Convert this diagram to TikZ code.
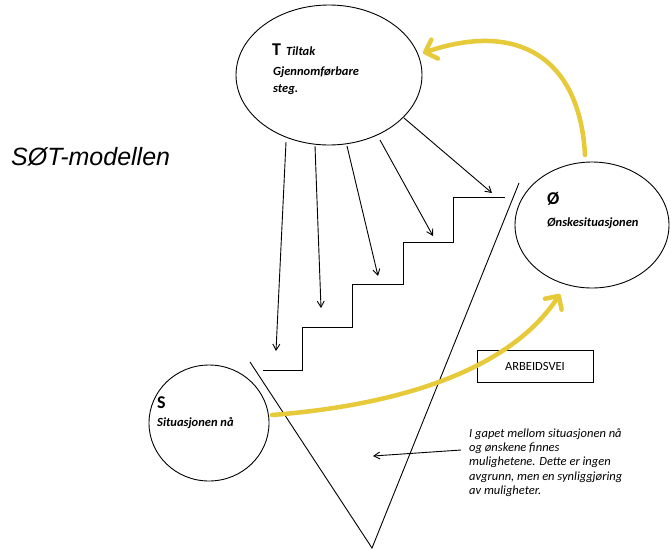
\documentclass[tikz,border=0pt]{standalone}
\usepackage{fontspec}
\setmainfont{Carlito}
\newfontfamily\arialfont{Liberation Sans}
\usetikzlibrary{arrows.meta}
\definecolor{pathyellow}{RGB}{230,202,58}
\begin{document}
\begin{tikzpicture}[x=1pt,y=-1pt,
  thinline/.style={draw,line width=0.9pt},
  steparrow/.style={draw,line width=0.9pt,-{Straight Barb[length=6pt,width=7pt]}},
  yellowarrow/.style={draw=pathyellow,line width=4.5pt,line cap=round,
    -{Straight Barb[length=10pt,width=20pt,line width=4.5pt,round]}},
  label/.style={font=\bfseries\itshape\fontsize{12.5}{14}\selectfont,anchor=base west,inner sep=0pt},
  letter/.style={font=\bfseries\fontsize{18}{20}\selectfont,anchor=base west,inner sep=0pt}
]
\useasboundingbox (0,0) rectangle (671,549);

% Title
\node[anchor=base west,inner sep=0pt,font=\arialfont\itshape\fontsize{25}{28}\selectfont] (title) at (11,165) {SØT-modellen};

% Three ellipses
\draw[thinline] (329,75) ellipse [x radius=93,y radius=70];
\coordinate (Tc) at (329,75);
\draw[thinline] (592,225) ellipse [x radius=77,y radius=63];
\coordinate (Oc) at (592,225);
\draw[thinline] (209,423) ellipse [x radius=60,y radius=58];
\coordinate (Sc) at (209,423);

% Ellipse texts
\node[letter] (Tletter) at (272,55) {T};
\node[label] (Tname) at (286,55) {Tiltak};
\node[label] (Tl2) at (273,75) {Gjennomførbare};
\node[label] (Tl3) at (273,92) {steg.};

\node[letter] (Oletter) at (547,204) {Ø};
\node[label] (Oname) at (547,226) {Ønskesituasjonen};

\node[letter] (Sletter) at (157,408) {S};
\node[label] (Sname) at (157,426) {Situasjonen nå};

% The gap (V shape)
\coordinate (Vl) at (250,362);
\coordinate (Vb) at (372,548);
\coordinate (Vr) at (519,183);
\draw[thinline] (Vl) -- (Vb) -- (Vr);

% Staircase
\coordinate (st0) at (263,370);
\draw[thinline] (st0) -- (302,370) -- (302,327) -- (352,327) -- (352,284)
  -- (403,284) -- (403,242) -- (453,242) -- (453,197) -- (505,197);

% Arrows from T down onto the steps
\coordinate (a1s) at (286,142); \coordinate (a1e) at (276,351);
\coordinate (a2s) at (315,146); \coordinate (a2e) at (321,308);
\coordinate (a3s) at (347,146); \coordinate (a3e) at (378,276);
\coordinate (a4s) at (380,140); \coordinate (a4e) at (433,236);
\coordinate (a5s) at (404,118); \coordinate (a5e) at (492,193);
\foreach \i in {1,...,5} \draw[steparrow] (a\i s) -- (a\i e);

% ARBEIDSVEI box
\node[draw,line width=0.9pt,minimum width=116pt,minimum height=32pt,inner sep=0pt,
  font=\fontsize{12.5}{14}\selectfont] (work) at (535,366) {ARBEIDSVEI};

% Yellow path arrows
\coordinate (y1s) at (585,155);
\coordinate (y1e) at (423,53);
\draw[yellowarrow] (y1s) .. controls (580,60) and (520,20) .. (y1e);

\coordinate (y2s) at (272,415);
\coordinate (y2e) at (560,294);
\draw[yellowarrow] (y2s) .. controls (400,405) and (510,370) .. (y2e);

% Explanation
\node[anchor=north west,inner sep=0pt,align=left,
  font=\itshape\fontsize{12.5}{14.4}\selectfont] (note) at (469,428)
  {I gapet mellom situasjonen nå\\og ønskene finnes\\mulighetene. Dette er ingen\\avgrunn, men en synliggjøring\\av muligheter.};
\coordinate (ns) at (461,450);
\coordinate (ne) at (373,456);
\draw[steparrow] (ns) -- (ne);
\end{tikzpicture}
\end{document}
